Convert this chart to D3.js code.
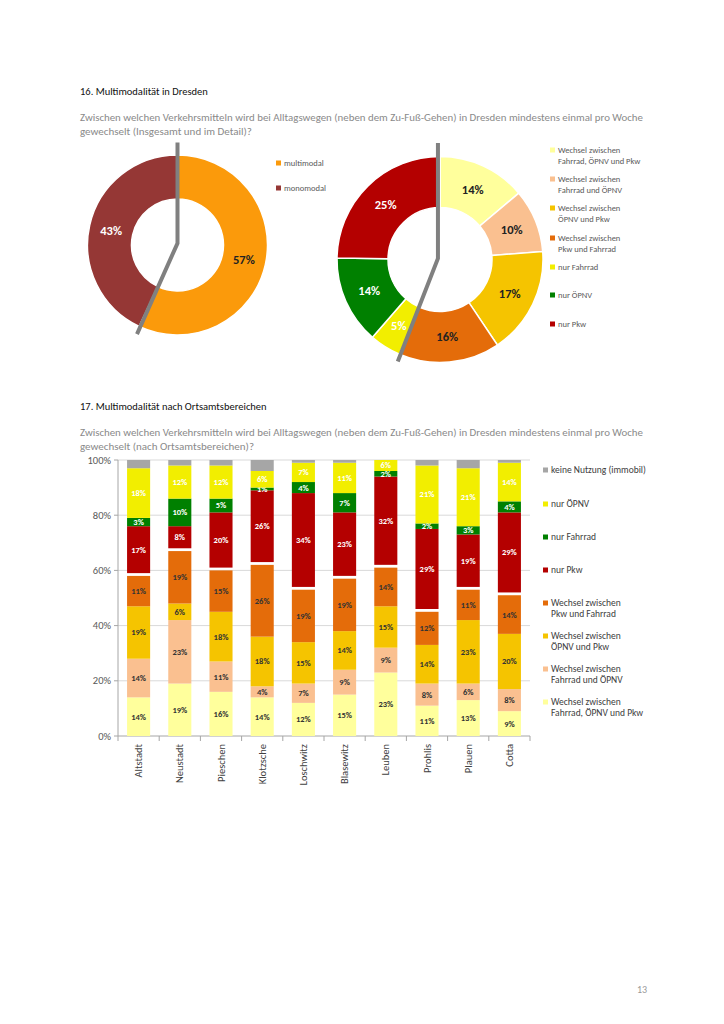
<!DOCTYPE html>
<html>
<head>
<meta charset="utf-8">
<script src="https://cdn.jsdelivr.net/npm/d3@7"></script>
<style>
  body { margin: 0; background: #fff; }
  text { font-family: Carlito, Calibri, Lato, "Open Sans", sans-serif; }
</style>
</head>
<body>
<svg id="chart"></svg>
<script>
// --- data: chart 16 (overall + detail) ---
const overallLabels = ["multimodal", "monomodal"];
const overallValues = [57, 43];
const overallColors = ["#FB9A0B", "#953735"];

const detailLabels = [
  "Wechsel zwischen|Fahrrad, ÖPNV und Pkw",
  "Wechsel zwischen|Fahrrad und ÖPNV",
  "Wechsel zwischen|ÖPNV und Pkw",
  "Wechsel zwischen|Pkw und Fahrrad",
  "nur Fahrrad",
  "nur ÖPNV",
  "nur Pkw"
];
const detailValues = [14, 10, 17, 16, 5, 14, 25];
const detailColors = ["#FFFF9C", "#FAC090", "#F5C400", "#E46C0A", "#F2EE00", "#008000", "#B40000"];
const detailLightText = [false, false, false, false, true, true, true];

// --- data: chart 17 (by district) ---
const districts = ["Altstadt", "Neustadt", "Pieschen", "Klotzsche", "Loschwitz", "Blasewitz", "Leuben", "Prohlis", "Plauen", "Cotta"];
const wechselFahrradOepnvPkw = [14, 19, 16, 14, 12, 15, 23, 11, 13, 9];
const wechselFahrradOepnv   = [14, 23, 11, 4, 7, 9, 9, 8, 6, 8];
const wechselOepnvPkw       = [19, 6, 18, 18, 15, 14, 15, 14, 23, 20];
const wechselPkwFahrrad     = [11, 19, 15, 26, 19, 19, 14, 12, 11, 14];
const nurPkw                = [17, 8, 20, 26, 34, 23, 32, 29, 19, 29];
const nurFahrrad            = [3, 10, 5, 1, 4, 7, 2, 2, 3, 4];
const nurOepnv              = [18, 12, 12, 6, 7, 11, 6, 21, 21, 14];
const keineNutzung          = [3, 2, 2, 4, 1, 1, 0, 2, 3, 1];
const yTicks = [0, 20, 40, 60, 80, 100];

const barSeries = [
  { name: "Wechsel zwischen|Fahrrad, ÖPNV und Pkw", values: wechselFahrradOepnvPkw, color: "#FFFF9C", light: false, label: true },
  { name: "Wechsel zwischen|Fahrrad und ÖPNV", values: wechselFahrradOepnv, color: "#FAC090", light: false, label: true },
  { name: "Wechsel zwischen|ÖPNV und Pkw", values: wechselOepnvPkw, color: "#F5C400", light: false, label: true },
  { name: "Wechsel zwischen|Pkw und Fahrrad", values: wechselPkwFahrrad, color: "#E46C0A", light: false, label: true },
  { name: "nur Pkw", values: nurPkw, color: "#B40000", light: true, label: true },
  { name: "nur Fahrrad", values: nurFahrrad, color: "#008000", light: true, label: true },
  { name: "nur ÖPNV", values: nurOepnv, color: "#F2EE00", light: true, label: true },
  { name: "keine Nutzung (immobil)", values: keineNutzung, color: "#A6A6A6", light: false, label: false }
];

const width = 724, height = 1024;
const svg = d3.select("#chart").attr("width", width).attr("height", height)
  .style("background", "#fff");

// headings
function heading(txt, y) {
  svg.append("text").attr("x", 80).attr("y", y).text(txt)
    .style("font-size", "10.5px").style("fill", "#111");
}
function question(line1, line2, y) {
  svg.append("text").attr("x", 80).attr("y", y).text(line1)
    .attr("textLength", 563).attr("lengthAdjust", "spacingAndGlyphs")
    .style("font-size", "11px").style("font-weight", 300).style("fill", "#8a8a8a");
  svg.append("text").attr("x", 80).attr("y", y + 14).text(line2)
    .style("font-size", "11px").style("font-weight", 300).style("fill", "#8a8a8a");
}
const q1 = "Zwischen welchen Verkehrsmitteln wird bei Alltagswegen (neben dem Zu-Fuß-Gehen) in Dresden mindestens einmal pro Woche";
heading("16. Multimodalität in Dresden", 95);
question(q1, "gewechselt (Insgesamt und im Detail)?", 121);
heading("17. Multimodalität nach Ortsamtsbereichen", 410);
question(q1, "gewechselt (nach Ortsamtsbereichen)?", 436);

// --- donuts ---
function donut(cx, cy, rIn, rOut, values, colors, light, pointer) {
  const g = svg.append("g").attr("transform", `translate(${cx},${cy})`);
  const pie = d3.pie().sort(null).value(d => d);
  const arc = d3.arc().innerRadius(rIn).outerRadius(rOut);
  const labelArc = d3.arc().innerRadius((rIn + rOut) / 2).outerRadius((rIn + rOut) / 2);
  const arcs = pie(values);
  g.selectAll("path").data(arcs).enter().append("path")
    .attr("d", arc)
    .attr("fill", (d, i) => colors[i])
    .attr("stroke", "#fff").attr("stroke-width", 1.5);
  g.selectAll("text.lbl").data(arcs).enter().append("text")
    .attr("class", "lbl")
    .attr("transform", d => `translate(${labelArc.centroid(d)})`)
    .attr("text-anchor", "middle").attr("dy", "0.35em")
    .style("font-size", "12.5px").style("font-weight", "bold")
    .style("fill", (d, i) => light[i] ? "#fff" : "#222")
    .text(d => d.data + "%");
  // grey pointer line, given relative to radius
  g.append("path")
    .attr("d", d3.line()(pointer.map(p => [p[0] * rOut, p[1] * rOut])))
    .attr("fill", "none").attr("stroke", "#808080").attr("stroke-width", 4);
}
donut(177.5, 245, 46, 90, overallValues, overallColors, [false, true],
  [[0, -1.14], [0, -0.02], [-0.45, 0.99]]);
donut(440, 259.5, 52, 103, detailValues, detailColors, detailLightText,
  [[-0.02, -1.13], [-0.02, -0.01], [-0.41, 0.99]]);

// legends
function legend(x, items, colors, ys, fs, fill) {
  items.forEach((name, i) => {
    const lines = name.split("|");
    svg.append("rect").attr("x", x).attr("y", ys[i] - 2.5).attr("width", 5).attr("height", 5)
      .attr("fill", colors[i]);
    lines.forEach((l, j) => {
      svg.append("text").attr("x", x + 8).attr("y", ys[i] + j * 11).attr("dy", "0.35em")
        .style("font-size", fs).style("fill", fill).text(l);
    });
  });
}
legend(276, overallLabels, overallColors, [163, 188], "8.5px", "#595959");
legend(550, detailLabels, detailColors, [150, 179, 208, 238, 267, 295, 324], "8.5px", "#595959");

// --- stacked bars ---
const x = d3.scaleBand().domain(districts).range([118, 530]).paddingInner(0.44).paddingOuter(0.22);
const y = d3.scaleLinear().domain([0, 100]).range([736, 460]);
const gap = 2.8; // white break between "Wechsel" block and "nur" block

const grid = svg.append("g");
yTicks.forEach(t => {
  grid.append("line").attr("x1", 118).attr("x2", 530).attr("y1", y(t)).attr("y2", y(t))
    .attr("stroke", t === 0 ? "#a6a6a6" : "#d9d9d9").attr("stroke-width", 1);
  grid.append("line").attr("x1", 114).attr("x2", 118).attr("y1", y(t)).attr("y2", y(t))
    .attr("stroke", "#a6a6a6");
  grid.append("text").attr("x", 111).attr("y", y(t)).attr("dy", "0.35em")
    .attr("text-anchor", "end").style("font-size", "10.5px").style("fill", "#595959")
    .text(t + "%");
});
grid.append("line").attr("x1", 118).attr("x2", 118).attr("y1", y(0)).attr("y2", y(100))
  .attr("stroke", "#a6a6a6");
// category tick marks between bands
const step = x.step();
d3.range(districts.length + 1).forEach(i => {
  const xx = 118 + i * step;
  grid.append("line").attr("x1", xx).attr("x2", xx).attr("y1", y(0)).attr("y2", y(0) + 5)
    .attr("stroke", "#a6a6a6");
});

const bars = svg.append("g");
districts.forEach((d, di) => {
  let cum = 0;
  barSeries.forEach((s, si) => {
    const v = s.values[di];
    const off = si >= 4 ? gap : 0;
    const y0 = y(cum) - off;
    let y1 = y(cum + v) - off;
    y1 = Math.max(y1, y(100));
    cum += v;
    if (v <= 0 || y0 - y1 <= 0) return;
    bars.append("rect").attr("x", x(d)).attr("width", x.bandwidth())
      .attr("y", y1).attr("height", y0 - y1).attr("fill", s.color);
    if (s.label) {
      bars.append("text").attr("x", x(d) + x.bandwidth() / 2).attr("y", (y0 + y1) / 2)
        .attr("dy", "0.35em").attr("text-anchor", "middle")
        .style("font-size", "8.5px").style("font-weight", "bold")
        .style("fill", s.light ? "#fff" : "#333")
        .text(v + "%");
    }
  });
  svg.append("text")
    .attr("transform", `translate(${x(d) + x.bandwidth() / 2},744) rotate(-90)`)
    .attr("text-anchor", "end").attr("dy", "0.35em")
    .style("font-size", "10.5px").style("fill", "#404040").text(d);
});

// bar legend (top item first: reverse stack order)
const legItems = barSeries.slice().reverse();
legend(543, legItems.map(s => s.name), legItems.map(s => s.color),
  [470, 504, 537, 570, 603, 636, 669, 702], "9.5px", "#404040");

svg.append("text").attr("x", 637).attr("y", 993).style("font-size", "10px")
  .style("fill", "#999").text("13");
</script>
</body>
</html>
